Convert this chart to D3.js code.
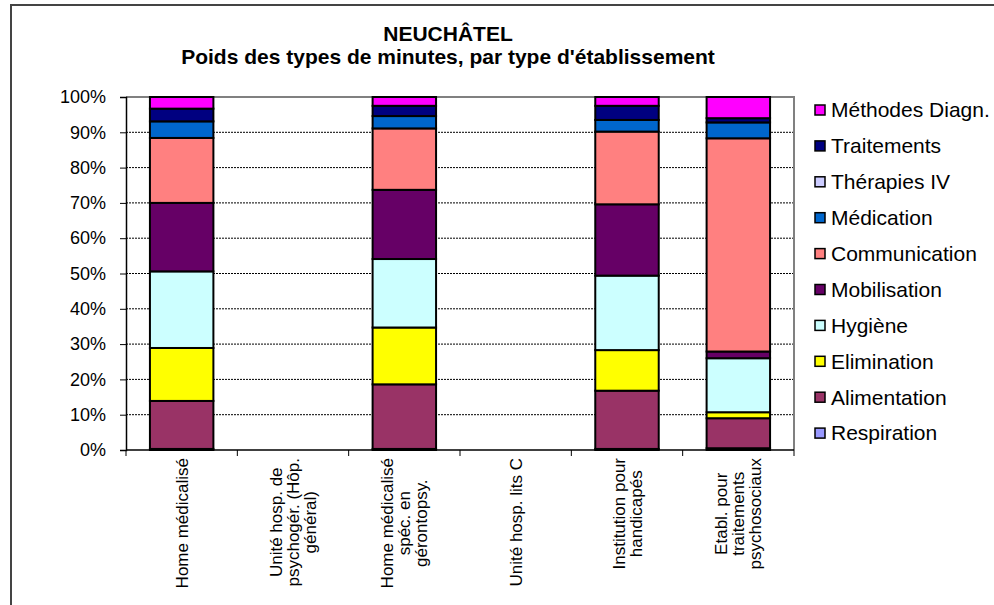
<!DOCTYPE html>
<html>
<head>
<meta charset="utf-8">
<script src="https://cdn.jsdelivr.net/npm/d3@7"></script>
<style>
  body { margin: 0; background: #fff; }
  svg text { font-family: "Liberation Sans", Arial, sans-serif; fill: #000; }
</style>
</head>
<body>
<svg id="chart"></svg>
<script>
// categories (line breaks as in the original labels)
var categories = [
    ["Home médicalisé"],
    ["Unité hosp. de", "psychogér. (Hôp.", "général)"],
    ["Home médicalisé", "spéc. en", "gérontopsy."],
    ["Unité hosp. lits C"],
    ["Institution pour", "handicapés"],
    ["Etabl. pour", "traitements", "psychosociaux"]
]
// series, bottom to top
var seriesNames = ["Respiration", "Alimentation", "Elimination", "Hygiène", "Mobilisation",
    "Communication", "Médication", "Thérapies IV", "Traitements", "Méthodes Diagn."]
var seriesColors = ["#9999FF", "#993366", "#FFFF00", "#CCFFFF", "#660066",
    "#FF8080", "#0066CC", "#CCCCFF", "#000080", "#FF00FF"]

// values in % per category
var respiration   = [0.3, 0, 0.3, 0, 0.3, 0.5]
var alimentation  = [13.6, 0, 18.3, 0, 16.5, 8.5]
var elimination   = [15.0, 0, 16.1, 0, 11.5, 1.7]
var hygiene       = [21.7, 0, 19.4, 0, 21.1, 15.3]
var mobilisation  = [19.4, 0, 19.6, 0, 20.2, 1.9]
var communication = [18.4, 0, 17.4, 0, 20.6, 60.4]
var medication    = [4.7, 0, 3.5, 0, 3.3, 4.5]
var therapiesIV   = [0, 0, 0, 0, 0, 0]
var traitements   = [3.6, 0, 2.9, 0, 4.0, 1.2]
var methodes      = [3.3, 0, 2.5, 0, 2.5, 6.0]

var yTicks = [0, 10, 20, 30, 40, 50, 60, 70, 80, 90, 100]

function drawChart() {
    var width = 994, height = 605;
    var margin = { top: 97, left: 126, right: 794, bottom: 450 }

    var svg = d3.select("#chart")
        .attr("width", width)
        .attr("height", height)

    // chart area border
    svg.append("rect")
        .attr("x", 11).attr("y", 5)
        .attr("width", width - 10).attr("height", height)
        .attr("fill", "none")
        .attr("stroke", "#444")
        .attr("stroke-width", 2)

    var allSeries = [respiration, alimentation, elimination, hygiene, mobilisation,
        communication, medication, therapiesIV, traitements, methodes]
    var table = categories.map((c, i) => {
        var row = { idx: i }
        seriesNames.forEach((s, j) => { row[s] = allSeries[j][i] })
        return row
    })
    var stacked = d3.stack().keys(seriesNames)(table)

    var xScale = d3.scaleBand()
        .domain(d3.range(categories.length))
        .range([margin.left, margin.right])
        .paddingInner(0.43)
        .paddingOuter(0.215)
    var xOuter = d3.scaleBand()
        .domain(d3.range(categories.length))
        .range([margin.left, margin.right])
    var yScale = d3.scaleLinear()
        .domain([0, 100])
        .range([margin.bottom, margin.top])

    // gridlines
    svg.append("g")
        .selectAll("line")
        .data(yTicks.filter(t => t > 0 && t < 100))
        .enter().append("line")
        .attr("x1", margin.left).attr("x2", margin.right)
        .attr("y1", d => yScale(d)).attr("y2", d => yScale(d))
        .attr("stroke", "#000")
        .attr("stroke-width", 1)
        .attr("stroke-dasharray", "2,1")

    // plot border (top/right)
    svg.append("path")
        .attr("d", d3.line()([[margin.left, margin.top], [margin.right, margin.top], [margin.right, margin.bottom]]))
        .attr("fill", "none")
        .attr("stroke", "#808080")
        .attr("stroke-width", 2)

    // bars
    stacked.forEach((layer, j) => {
        svg.append("g")
            .selectAll("rect")
            .data(layer.filter(d => d[1] - d[0] > 0))
            .enter().append("rect")
            .attr("x", d => xScale(d.data.idx))
            .attr("width", xScale.bandwidth())
            .attr("y", d => yScale(d[1]))
            .attr("height", d => yScale(d[0]) - yScale(d[1]))
            .attr("fill", seriesColors[j])
            .attr("stroke", "#000")
            .attr("stroke-width", 2)
    })

    // y axis
    var yAxis = svg.append("g")
        .attr("transform", "translate(" + margin.left + ",0)")
        .call(d3.axisLeft(yScale).tickValues(yTicks).tickSize(6).tickFormat(d => d + "%"))
    yAxis.select(".domain").attr("stroke", "#000").attr("stroke-width", 1.5)
    yAxis.selectAll(".tick line").attr("stroke", "#000")
    yAxis.selectAll(".tick text")
        .attr("x", -20)
        .style("font-size", "18px")
        .style("font-family", "Liberation Sans, Arial, sans-serif")

    // x axis with ticks between categories
    svg.append("line")
        .attr("x1", margin.left).attr("x2", margin.right)
        .attr("y1", margin.bottom).attr("y2", margin.bottom)
        .attr("stroke", "#000").attr("stroke-width", 1.5)
    svg.append("g")
        .selectAll("line")
        .data(d3.range(categories.length + 1))
        .enter().append("line")
        .attr("x1", d => margin.left + d * xOuter.step())
        .attr("x2", d => margin.left + d * xOuter.step())
        .attr("y1", margin.bottom).attr("y2", margin.bottom + 6)
        .attr("stroke", "#000")

    // category labels, rotated
    var lineH = 17
    var labelSize = "17px"
    categories.forEach((lines, i) => {
        var cx = xOuter(i) + xOuter.bandwidth() / 2
        var n = lines.length
        lines.forEach((t, k) => {
            var lx = cx + (k - (n - 1) / 2) * lineH + 6
            svg.append("text")
                .attr("transform", "translate(" + lx + "," + (margin.bottom + 8) + ") rotate(-90)")
                .attr("text-anchor", n > 1 ? "middle" : "end")
                .attr("x", n > 1 ? -longest(lines) / 2 : 0)
                .style("font-size", labelSize)
                .text(t)
        })
    })

    function longest(lines) {
        var tmp = svg.append("text").style("font-size", labelSize)
        var w = d3.max(lines, l => { tmp.text(l); return tmp.node().getComputedTextLength() })
        tmp.remove()
        return w
    }

    // title
    svg.append("text")
        .attr("x", 448).attr("y", 41)
        .attr("text-anchor", "middle")
        .style("font-size", "21px").style("font-weight", "bold")
        .text("NEUCHÂTEL")
    svg.append("text")
        .attr("x", 448).attr("y", 64)
        .attr("text-anchor", "middle")
        .style("font-size", "21px").style("font-weight", "bold")
        .text("Poids des types de minutes, par type d'établissement")

    // legend, top to bottom reversed
    var legend = svg.append("g")
    var legendItems = seriesNames.map((s, j) => ({ name: s, color: seriesColors[j] })).reverse()
    legendItems.forEach((d, k) => {
        var ly = 110 + k * 35.9
        legend.append("rect")
            .attr("x", 815).attr("y", ly - 5)
            .attr("width", 10).attr("height", 10)
            .attr("fill", d.color)
            .attr("stroke", "#000")
            .attr("stroke-width", 1.5)
        legend.append("text")
            .attr("x", 831).attr("y", ly)
            .attr("dy", "0.35em")
            .style("font-size", "21px")
            .text(d.name)
    })
}
drawChart();
</script>
</body>
</html>
